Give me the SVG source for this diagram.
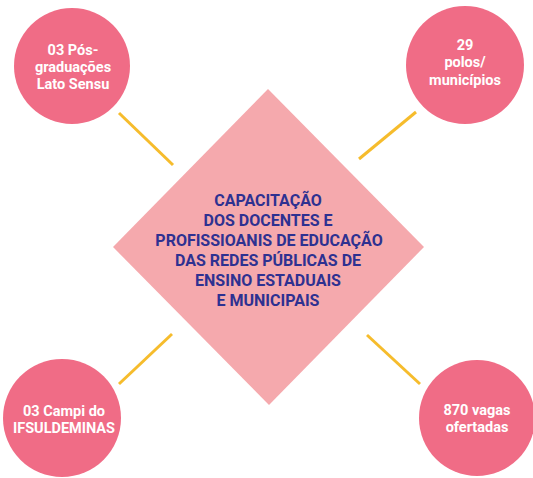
<svg xmlns="http://www.w3.org/2000/svg" width="533" height="478" viewBox="0 0 533 478">
<style>
.circ{fill:#F06C86}
.dia{fill:#F5A9AD}
.conn line{stroke:#F6BC2C;stroke-width:3;stroke-linecap:butt}
.wt{fill:#FFFFFF;font-family:Roboto,"Open Sans","Liberation Sans",sans-serif;font-weight:bold;font-size:14.5px;text-anchor:middle}
.bt{fill:#2E3191;font-family:Roboto,"Open Sans","Liberation Sans",sans-serif;font-weight:bold;font-size:16px;text-anchor:middle}
</style>
<rect width="533" height="478" fill="#FFFFFF"/>
<g id="center">
<polygon class="dia" points="268,89 424,247 269,405 113,247"/>
<text class="bt" x="268" y="206">CAPACITAÇÃO</text>
<text class="bt" x="268" y="226">DOS DOCENTES E</text>
<text class="bt" x="269" y="246">PROFISSIOANIS DE EDUCAÇÃO</text>
<text class="bt" x="268" y="266">DAS REDES PÚBLICAS DE</text>
<text class="bt" x="268" y="286">ENSINO ESTADUAIS</text>
<text class="bt" x="268" y="306">E MUNICIPAIS</text>
</g>
<g id="connectors" class="conn">
<line x1="119" y1="113" x2="173" y2="165"/>
<line x1="416" y1="112" x2="359" y2="159"/>
<line x1="172" y1="334" x2="119" y2="384"/>
<line x1="367" y1="335" x2="420" y2="384"/>
</g>
<g id="node-pos">
<circle class="circ" cx="72" cy="66" r="58"/>
<text class="wt" x="73" y="55">03 Pós-</text>
<text class="wt" x="73" y="72">graduações</text>
<text class="wt" x="73" y="89">Lato Sensu</text>
</g>
<g id="node-polos">
<circle class="circ" cx="465" cy="65" r="59"/>
<text class="wt" x="465" y="50">29</text>
<text class="wt" x="465" y="67">polos/</text>
<text class="wt" x="465" y="85">municípios</text>
</g>
<g id="node-campi">
<circle class="circ" cx="62" cy="418" r="59"/>
<text class="wt" x="64" y="416">03 Campi do</text>
<text class="wt" x="64" y="433">IFSULDEMINAS</text>
</g>
<g id="node-vagas">
<circle class="circ" cx="477" cy="418" r="58"/>
<text class="wt" x="477" y="415">870 vagas</text>
<text class="wt" x="477" y="432">ofertadas</text>
</g>
</svg>
